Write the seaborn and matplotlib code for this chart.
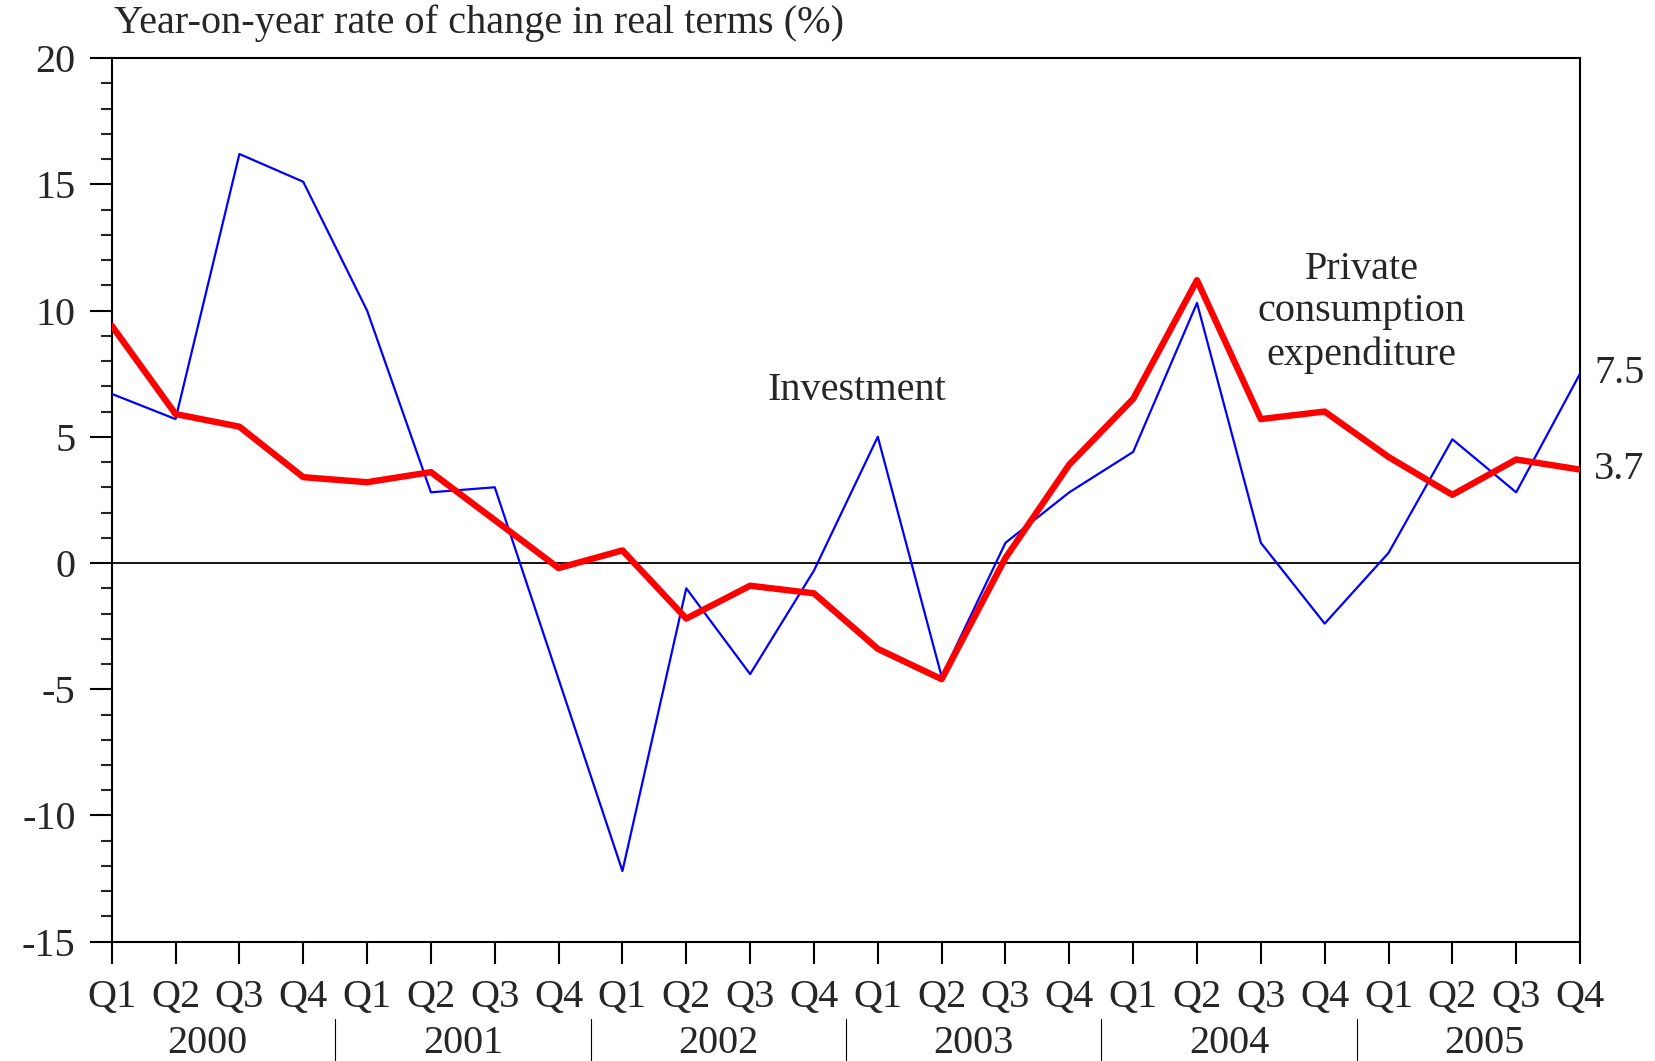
import numpy as np
import pandas as pd
import seaborn as sns
import matplotlib.pyplot as plt
from matplotlib.ticker import MultipleLocator

# data
quarters = ['Q1', 'Q2', 'Q3', 'Q4'] * 6
years = ['2000', '2001', '2002', '2003', '2004', '2005']
investment = [6.7, 5.7, 16.2, 15.1, 10.0, 2.8, 3.0, -4.6,
              -12.2, -1.0, -4.4, -0.3, 5.0, -4.5, 0.8, 2.8,
              4.4, 10.3, 0.8, -2.4, 0.4, 4.9, 2.8, 7.5]
consumption = [9.4, 5.9, 5.4, 3.4, 3.2, 3.6, 1.7, -0.2,
               0.5, -2.2, -0.9, -1.2, -3.4, -4.6, 0.2, 3.9,
               6.5, 11.2, 5.7, 6.0, 4.2, 2.7, 4.1, 3.7]

df = pd.DataFrame({
    'pos': np.arange(len(quarters)),
    'Investment': investment,
    'Consumption': consumption,
})

sns.set_style('ticks')
plt.rcParams['font.family'] = ['Liberation Serif', 'DejaVu Serif']
plt.rcParams['font.size'] = 29
plt.rcParams['axes.unicode_minus'] = False

fig = plt.figure(figsize=(16.55, 10.61), dpi=100)
ax = fig.add_axes([0.0675, 0.1124, 0.8872, 0.8329])

ax.axhline(0, color='black', lw=1.3, zorder=1)
sns.lineplot(data=df, x='pos', y='Investment', ax=ax, color='#0000ff', lw=1.6, zorder=3)
sns.lineplot(data=df, x='pos', y='Consumption', ax=ax, color='#ff0000', lw=4.6, zorder=4)

ax.set_xlim(0, len(quarters) - 1)
ax.set_ylim(-15, 20)
ax.set_xlabel('')
ax.set_ylabel('')

ax.set_xticks(df['pos'])
ax.set_xticklabels(quarters)
ax.yaxis.set_major_locator(MultipleLocator(5))
ax.yaxis.set_minor_locator(MultipleLocator(1))
ax.tick_params(axis='both', which='major', direction='out', length=16, width=1.5,
               labelsize=29, color='black')
ax.tick_params(axis='x', which='major', pad=11)
ax.tick_params(axis='y', which='major', pad=10)
ax.tick_params(axis='y', which='minor', direction='out', length=8, width=1.5)
ax.tick_params(axis='x', which='minor', bottom=False)

for s in ax.spines.values():
    s.set_visible(True)
    s.set_linewidth(1.5)
    s.set_color('black')

# year labels and separators under the quarter labels
trans = ax.get_xaxis_transform()
for i, yr in enumerate(years):
    ax.text(i * 4 + 1.5, -0.115, yr, transform=trans, ha='center', va='center', fontsize=29)
    if i > 0:
        ax.plot([i * 4 - 0.5, i * 4 - 0.5], [-0.0875, -0.14], transform=trans,
                color='black', lw=0.8, clip_on=False)

# annotations
ax.text(11.67, 6.83, 'Investment', ha='center', va='center', fontsize=29)
ax.text(19.58, 9.93, 'Private\nconsumption\nexpenditure', ha='center', va='center',
        fontsize=29, linespacing=1.2)
last = len(quarters) - 1
for v in (investment[-1], consumption[-1]):
    ax.annotate(f'{v:.1f}', (last, v), xytext=(10, 0), textcoords='offset points',
                ha='left', va='center', fontsize=29, annotation_clip=False)

fig.text(114 / 1655, 1 - 23 / 1061, 'Year-on-year rate of change in real terms (%)',
         ha='left', va='center', fontsize=29)

fig.savefig('out.png', dpi=100)
